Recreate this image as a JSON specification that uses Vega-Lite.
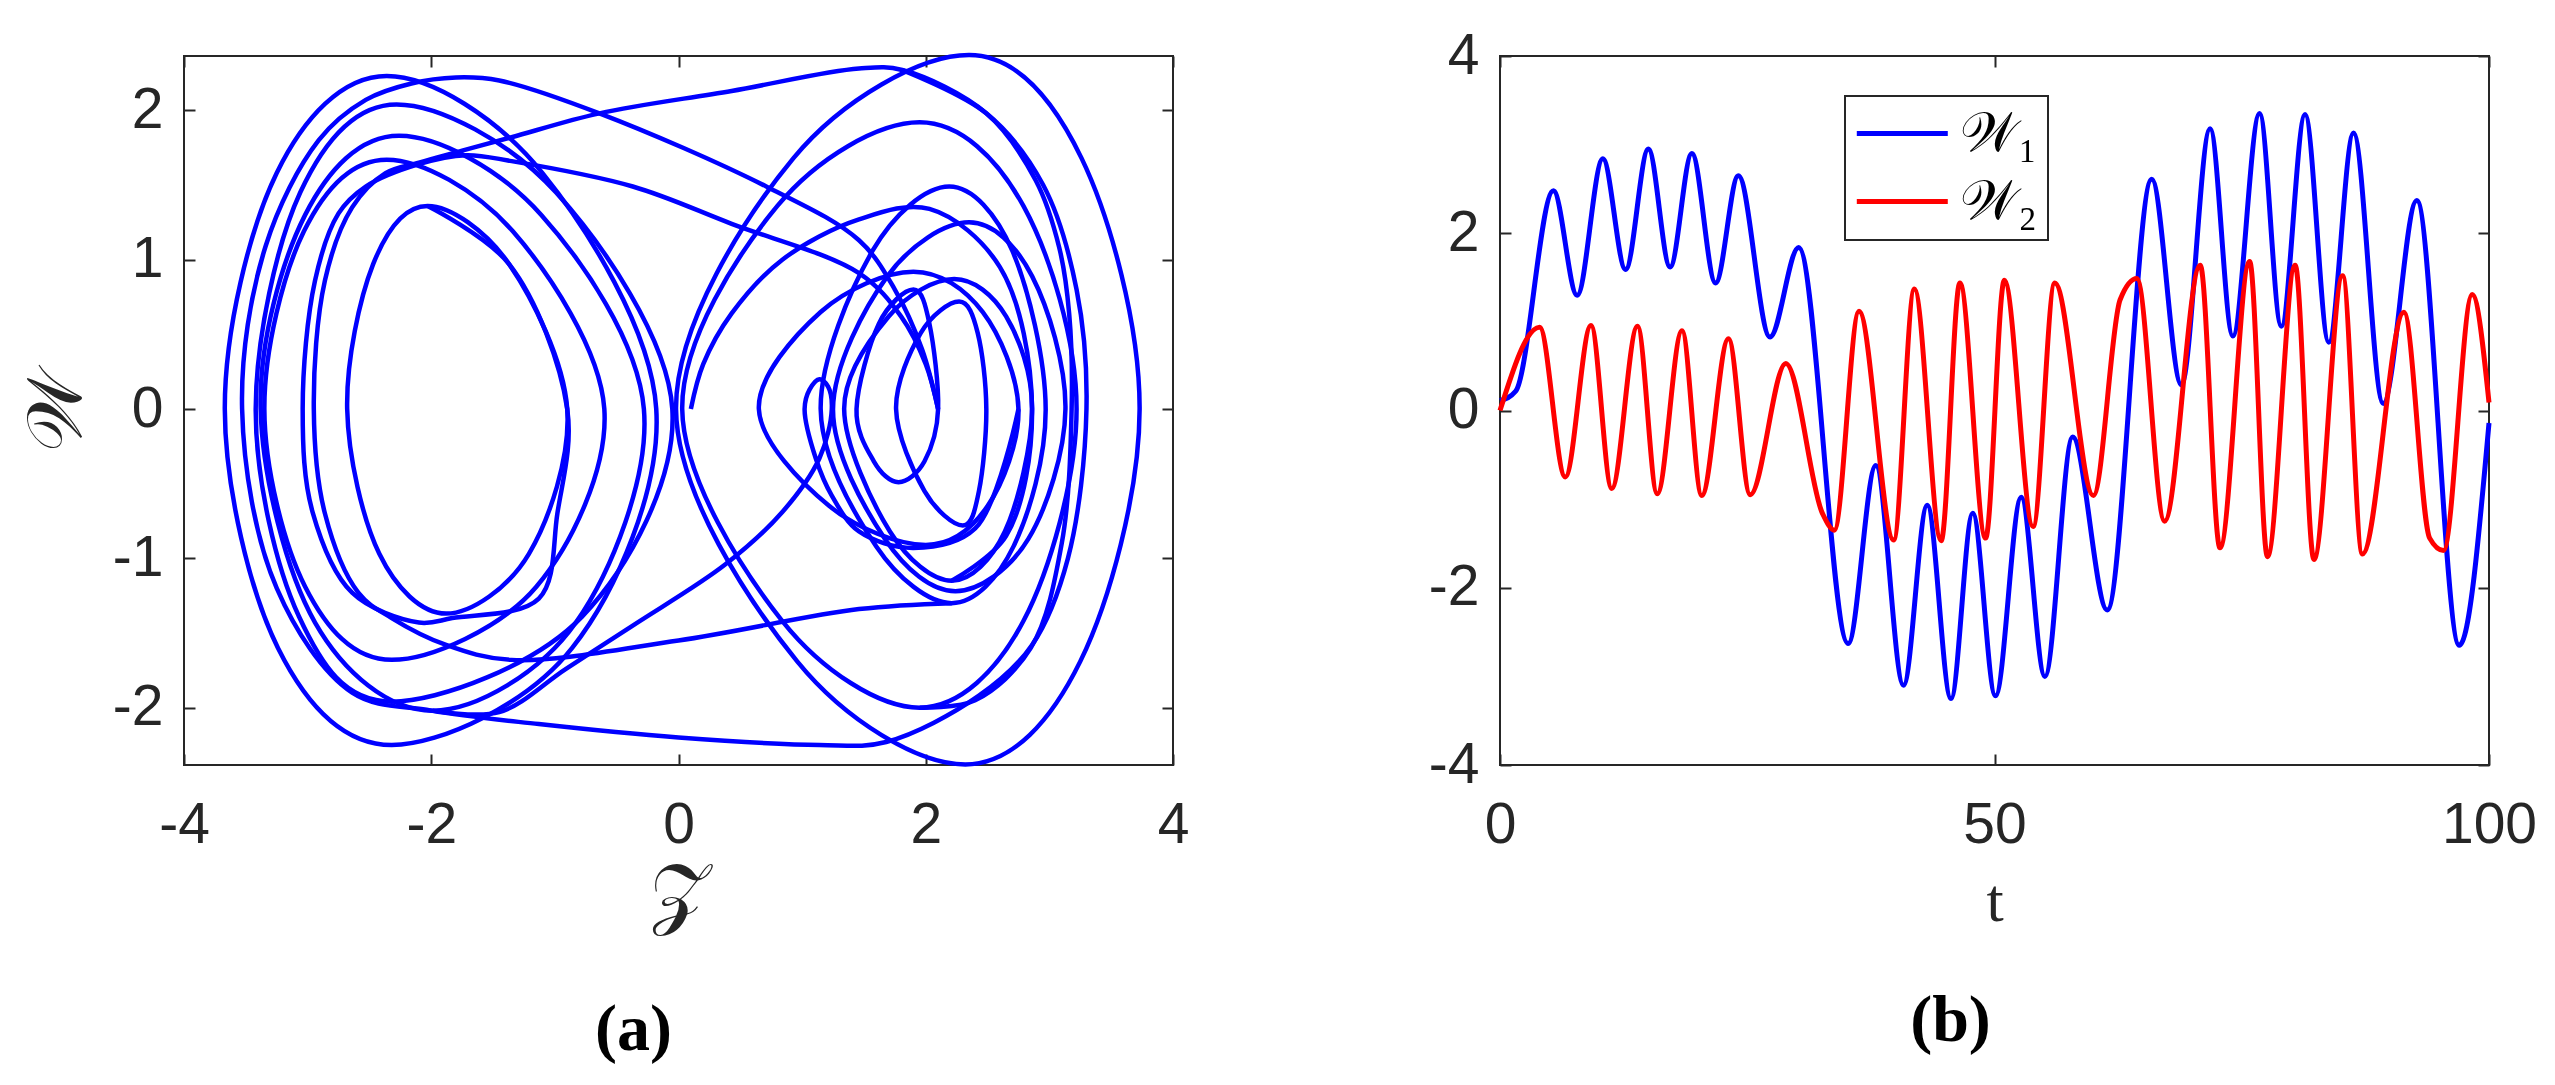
{
  "$schema": "https://vega.github.io/schema/vega-lite/v6.json",
  "padding": {"left": 17, "top": 26, "right": 10, "bottom": 10},
  "background": "white",
  "bounds": "flush",
  "spacing": 327,
  "config": {
    "view": {"stroke": "#262626", "strokeWidth": 2},
    "axis": {"domain": false, "grid": false, "ticks": true, "tickSize": -11, "tickColor": "#262626", "tickWidth": 2,
      "labelFont": "Liberation Sans", "labelFontSize": 57, "labelColor": "#262626", "labelFlush": false, "labelOverlap": false,
      "titleFont": "Liberation Serif", "titleFontSize": 62, "titleColor": "#262626", "titleFontWeight": "normal"},
    "axisX": {"labelPadding": 43},
    "axisY": {"labelPadding": 32},
    "legend": {"strokeWidth": 2},
    "title": {"font": "Liberation Serif", "fontSize": 66, "fontWeight": "bold", "color": "black"}
  },
  "datasets": {
    "loops": [
      {"id":"L1","o":1,"z":-3.67,"w":0},{"id":"L1","o":2,"z":-3.25,"w":1.58},{"id":"L1","o":3,"z":-2.36,"w":2.23},{"id":"L1","o":4,"z":-1.10,"w":1.58},{"id":"L1","o":5,"z":-0.18,"w":0},{"id":"L1","o":6,"z":-0.86,"w":-1.60},{"id":"L1","o":7,"z":-2.32,"w":-2.25},{"id":"L1","o":8,"z":-3.24,"w":-1.60},
      {"id":"L2","o":1,"z":-3.42,"w":0},{"id":"L2","o":2,"z":-3.06,"w":1.45},{"id":"L2","o":3,"z":-2.28,"w":2.04},{"id":"L2","o":4,"z":-0.99,"w":1.45},{"id":"L2","o":5,"z":-0.05,"w":0},{"id":"L2","o":6,"z":-0.78,"w":-1.39},{"id":"L2","o":7,"z":-2.32,"w":-1.96},{"id":"L2","o":8,"z":-3.07,"w":-1.39},
      {"id":"L3","o":1,"z":-3.38,"w":0},{"id":"L3","o":2,"z":-3.02,"w":1.30},{"id":"L3","o":3,"z":-2.26,"w":1.83},{"id":"L3","o":4,"z":-1.11,"w":1.30},{"id":"L3","o":5,"z":-0.28,"w":0},{"id":"L3","o":6,"z":-0.83,"w":-1.43},{"id":"L3","o":7,"z":-1.99,"w":-2.02},{"id":"L3","o":8,"z":-2.94,"w":-1.43},
      {"id":"L4","o":1,"z":-3.35,"w":0},{"id":"L4","o":2,"z":-3.03,"w":1.19},{"id":"L4","o":3,"z":-2.36,"w":1.67},{"id":"L4","o":4,"z":-1.34,"w":1.19},{"id":"L4","o":5,"z":-0.60,"w":0},{"id":"L4","o":6,"z":-1.15,"w":-1.19},{"id":"L4","o":7,"z":-2.32,"w":-1.68},{"id":"L4","o":8,"z":-3.02,"w":-1.19},
      {"id":"L5","o":1,"z":-2.68,"w":0},{"id":"L5","o":2,"z":-2.47,"w":0.97},{"id":"L5","o":3,"z":-2.03,"w":1.36},{"id":"L5","o":4,"z":-1.37,"w":0.97},{"id":"L5","o":5,"z":-0.90,"w":0},{"id":"L5","o":6,"z":-1.21,"w":-0.97},{"id":"L5","o":7,"z":-1.88,"w":-1.37},{"id":"L5","o":8,"z":-2.42,"w":-0.97},
      {"id":"RH","o":1,"z":-0.02,"w":0},{"id":"RH","o":2,"z":0.93,"w":1.68},{"id":"RH","o":3,"z":2.35,"w":2.37},{"id":"RH","o":4,"z":3.26,"w":1.68},{"id":"RH","o":5,"z":3.73,"w":0},{"id":"RH","o":6,"z":3.25,"w":-1.69},{"id":"RH","o":7,"z":2.32,"w":-2.38},{"id":"RH","o":8,"z":0.96,"w":-1.69},
      {"id":"RF","o":1,"z":0.03,"w":0},{"id":"RF","o":2,"z":0.80,"w":1.36},{"id":"RF","o":3,"z":1.95,"w":1.92},{"id":"RF","o":4,"z":2.79,"w":1.36},{"id":"RF","o":5,"z":3.22,"w":0},{"id":"RF","o":6,"z":2.79,"w":-1.42},{"id":"RF","o":7,"z":1.95,"w":-2.00},{"id":"RF","o":8,"z":0.84,"w":-1.42},
      {"id":"RE","o":1,"z":1.15,"w":0},{"id":"RE","o":2,"z":1.57,"w":1.06},{"id":"RE","o":3,"z":2.19,"w":1.49},{"id":"RE","o":4,"z":2.70,"w":1.06},{"id":"RE","o":5,"z":2.97,"w":0},{"id":"RE","o":6,"z":2.71,"w":-0.92},{"id":"RE","o":7,"z":2.21,"w":-1.30},{"id":"RE","o":8,"z":1.60,"w":-0.92},
      {"id":"RG","o":1,"z":1.25,"w":0},{"id":"RG","o":2,"z":1.69,"w":0.89},{"id":"RG","o":3,"z":2.35,"w":1.25},{"id":"RG","o":4,"z":2.86,"w":0.89},{"id":"RG","o":5,"z":3.13,"w":0},{"id":"RG","o":6,"z":2.83,"w":-0.87},{"id":"RG","o":7,"z":2.24,"w":-1.22},{"id":"RG","o":8,"z":1.67,"w":-0.87},
      {"id":"RD","o":1,"z":1.34,"w":0},{"id":"RD","o":2,"z":1.70,"w":0.62},{"id":"RD","o":3,"z":2.23,"w":0.87},{"id":"RD","o":4,"z":2.65,"w":0.62},{"id":"RD","o":5,"z":2.86,"w":0},{"id":"RD","o":6,"z":2.64,"w":-0.82},{"id":"RD","o":7,"z":2.21,"w":-1.15},{"id":"RD","o":8,"z":1.71,"w":-0.82},
      {"id":"RC","o":1,"z":0.65,"w":0},{"id":"RC","o":2,"z":1.15,"w":0.65},{"id":"RC","o":3,"z":1.90,"w":0.92},{"id":"RC","o":4,"z":2.46,"w":0.65},{"id":"RC","o":5,"z":2.75,"w":0},{"id":"RC","o":6,"z":2.50,"w":-0.65},{"id":"RC","o":7,"z":2.00,"w":-0.91},{"id":"RC","o":8,"z":1.22,"w":-0.65},
      {"id":"RB","o":1,"z":1.76,"w":0},{"id":"RB","o":2,"z":1.96,"w":0.51},{"id":"RB","o":3,"z":2.27,"w":0.72},{"id":"RB","o":4,"z":2.42,"w":0.51},{"id":"RB","o":5,"z":2.49,"w":0},{"id":"RB","o":6,"z":2.43,"w":-0.55},{"id":"RB","o":7,"z":2.30,"w":-0.78},{"id":"RB","o":8,"z":1.99,"w":-0.55},
      {"id":"RA","o":1,"z":1.44,"w":0},{"id":"RA","o":2,"z":1.62,"w":0.57},{"id":"RA","o":3,"z":1.90,"w":0.80},{"id":"RA","o":4,"z":2.03,"w":0.57},{"id":"RA","o":5,"z":2.10,"w":0},{"id":"RA","o":6,"z":1.99,"w":-0.35},{"id":"RA","o":7,"z":1.78,"w":-0.49},{"id":"RA","o":8,"z":1.58,"w":-0.35}
    ],
    "paths": [
      {"id":"S","o":1,"z":0.10,"w":0.0},{"id":"S","o":2,"z":0.20,"w":0.30},{"id":"S","o":3,"z":0.43,"w":0.64},{"id":"S","o":4,"z":0.84,"w":1.00},{"id":"S","o":5,"z":1.46,"w":1.27},{"id":"S","o":6,"z":2.03,"w":1.34},{"id":"S","o":7,"z":2.60,"w":0.95},{"id":"S","o":8,"z":2.86,"w":0.0},{"id":"S","o":9,"z":2.65,"w":-0.85},{"id":"S","o":10,"z":2.21,"w":-1.15},
      {"id":"TB","o":1,"z":1.81,"w":2.27},{"id":"TB","o":2,"z":2.49,"w":1.98},{"id":"TB","o":3,"z":2.95,"w":1.50},{"id":"TB","o":4,"z":3.22,"w":0.80},{"id":"TB","o":5,"z":3.30,"w":0.0},{"id":"TB","o":6,"z":3.15,"w":-1.00},{"id":"TB","o":7,"z":2.86,"w":-1.58},{"id":"TB","o":8,"z":2.43,"w":-1.92},{"id":"TB","o":9,"z":1.68,"w":-2.23},{"id":"TB","o":10,"z":1.14,"w":-2.25},{"id":"TB","o":11,"z":0.00,"w":-2.20},{"id":"TB","o":12,"z":-1.13,"w":-2.11},{"id":"TB","o":13,"z":-2.00,"w":-2.02},{"id":"TB","o":14,"z":-2.64,"w":-1.90},{"id":"TB","o":15,"z":-3.25,"w":-1.20},{"id":"TB","o":16,"z":-3.53,"w":0.0},{"id":"TB","o":17,"z":-3.34,"w":1.09},{"id":"TB","o":18,"z":-2.91,"w":1.80},{"id":"TB","o":19,"z":-2.53,"w":2.07},{"id":"TB","o":20,"z":-2.16,"w":2.18},{"id":"TB","o":21,"z":-1.80,"w":2.22},{"id":"TB","o":22,"z":-1.45,"w":2.20},{"id":"TB","o":23,"z":-0.64,"w":1.98},{"id":"TB","o":24,"z":0.71,"w":1.49},{"id":"TB","o":25,"z":1.46,"w":1.13},{"id":"TB","o":26,"z":1.75,"w":0.80},{"id":"TB","o":27,"z":1.97,"w":0.40},{"id":"TB","o":28,"z":2.10,"w":0.0},
      {"id":"TF","o":1,"z":-2.03,"w":1.36},{"id":"TF","o":2,"z":-1.37,"w":0.97},{"id":"TF","o":3,"z":-0.90,"w":0.0},{"id":"TF","o":4,"z":-0.98,"w":-0.70},{"id":"TF","o":5,"z":-1.13,"w":-1.27},{"id":"TF","o":6,"z":-1.83,"w":-1.40},{"id":"TF","o":7,"z":-2.10,"w":-1.43},{"id":"TF","o":8,"z":-2.64,"w":-1.23},{"id":"TF","o":9,"z":-2.96,"w":-0.69},{"id":"TF","o":10,"z":-3.04,"w":0.0},{"id":"TF","o":11,"z":-2.94,"w":0.86},{"id":"TF","o":12,"z":-2.75,"w":1.31},{"id":"TF","o":13,"z":-2.53,"w":1.49},{"id":"TF","o":14,"z":-2.10,"w":1.64},{"id":"TF","o":15,"z":-1.72,"w":1.70},{"id":"TF","o":16,"z":-1.35,"w":1.66},{"id":"TF","o":17,"z":-0.37,"w":1.49},{"id":"TF","o":18,"z":0.43,"w":1.24},{"id":"TF","o":19,"z":1.46,"w":0.91},{"id":"TF","o":20,"z":1.80,"w":0.62},{"id":"TF","o":21,"z":2.00,"w":0.30},{"id":"TF","o":22,"z":2.10,"w":0.0},
      {"id":"TG","o":1,"z":2.21,"w":-1.30},{"id":"TG","o":2,"z":1.46,"w":-1.34},{"id":"TG","o":3,"z":0.00,"w":-1.55},{"id":"TG","o":4,"z":-1.35,"w":-1.68},{"id":"TG","o":5,"z":-1.88,"w":-1.58},{"id":"TG","o":6,"z":-2.32,"w":-1.40},{"id":"TG","o":7,"z":-2.59,"w":-1.23},{"id":"TG","o":8,"z":-2.86,"w":-0.70},{"id":"TG","o":9,"z":-2.95,"w":0.0},{"id":"TG","o":10,"z":-2.86,"w":0.86},{"id":"TG","o":11,"z":-2.64,"w":1.35},{"id":"TG","o":12,"z":-2.37,"w":1.58},{"id":"TG","o":13,"z":-2.10,"w":1.65},{"id":"TG","o":14,"z":-1.75,"w":1.73},{"id":"TG","o":15,"z":-1.35,"w":1.82},{"id":"TG","o":16,"z":-0.64,"w":1.98},{"id":"TG","o":17,"z":0.43,"w":2.13},{"id":"TG","o":18,"z":1.46,"w":2.28},{"id":"TG","o":19,"z":1.81,"w":2.27},{"id":"TG","o":20,"z":2.49,"w":1.98},{"id":"TG","o":21,"z":2.89,"w":1.53},{"id":"TG","o":22,"z":3.08,"w":1.08},{"id":"TG","o":23,"z":3.16,"w":0.64},{"id":"TG","o":24,"z":3.18,"w":0.0},{"id":"TG","o":25,"z":3.10,"w":-0.90},{"id":"TG","o":26,"z":2.85,"w":-1.60},{"id":"TG","o":27,"z":2.40,"w":-1.95},{"id":"TG","o":28,"z":1.95,"w":-2.00},
      {"id":"D","o":1,"z":-1.99,"w":-2.02},{"id":"D","o":2,"z":-1.45,"w":-2.03},{"id":"D","o":3,"z":-0.91,"w":-1.74},{"id":"D","o":4,"z":-0.37,"w":-1.45},{"id":"D","o":5,"z":0.38,"w":-1.04},{"id":"D","o":6,"z":0.84,"w":-0.69},{"id":"D","o":7,"z":1.14,"w":-0.33},{"id":"D","o":8,"z":1.24,"w":0.0},{"id":"D","o":9,"z":1.21,"w":0.15},{"id":"D","o":10,"z":1.14,"w":0.20},{"id":"D","o":11,"z":1.06,"w":0.13},{"id":"D","o":12,"z":1.02,"w":0.0},{"id":"D","o":13,"z":1.11,"w":-0.33},{"id":"D","o":14,"z":1.24,"w":-0.58},{"id":"D","o":15,"z":1.46,"w":-0.82},{"id":"D","o":16,"z":1.90,"w":-0.93},{"id":"D","o":17,"z":2.40,"w":-0.80},{"id":"D","o":18,"z":2.75,"w":0.0}
    ],
    "ts": [
      {"s":"𝒲₁","t":0,"v":0.11},{"s":"𝒲₁","t":1.6,"v":0.22},{"s":"𝒲₁","t":5.4,"v":2.48},{"s":"𝒲₁","t":7.8,"v":1.30},{"s":"𝒲₁","t":10.4,"v":2.84},{"s":"𝒲₁","t":12.7,"v":1.59},{"s":"𝒲₁","t":15.0,"v":2.95},{"s":"𝒲₁","t":17.2,"v":1.62},{"s":"𝒲₁","t":19.4,"v":2.90},{"s":"𝒲₁","t":21.8,"v":1.44},{"s":"𝒲₁","t":24.1,"v":2.65},{"s":"𝒲₁","t":27.3,"v":0.83},{"s":"𝒲₁","t":30.2,"v":1.84},{"s":"𝒲₁","t":35.2,"v":-2.63},{"s":"𝒲₁","t":38.0,"v":-0.62},{"s":"𝒲₁","t":40.8,"v":-3.10},{"s":"𝒲₁","t":43.2,"v":-1.07},{"s":"𝒲₁","t":45.6,"v":-3.25},{"s":"𝒲₁","t":47.8,"v":-1.16},{"s":"𝒲₁","t":50.1,"v":-3.22},{"s":"𝒲₁","t":52.7,"v":-0.98},{"s":"𝒲₁","t":55.1,"v":-3.00},{"s":"𝒲₁","t":57.9,"v":-0.30},{"s":"𝒲₁","t":61.4,"v":-2.25},{"s":"𝒲₁","t":65.9,"v":2.61},{"s":"𝒲₁","t":68.9,"v":0.29},{"s":"𝒲₁","t":71.8,"v":3.18},{"s":"𝒲₁","t":74.1,"v":0.84},{"s":"𝒲₁","t":76.8,"v":3.35},{"s":"𝒲₁","t":79.0,"v":0.95},{"s":"𝒲₁","t":81.4,"v":3.34},{"s":"𝒲₁","t":83.8,"v":0.77},{"s":"𝒲₁","t":86.3,"v":3.13},{"s":"𝒲₁","t":89.3,"v":0.08},{"s":"𝒲₁","t":92.7,"v":2.37},{"s":"𝒲₁","t":97.0,"v":-2.65},{"s":"𝒲₁","t":100,"v":-0.14},
      {"s":"𝒲₂","t":0,"v":0.0},{"s":"𝒲₂","t":4.0,"v":0.94},{"s":"𝒲₂","t":6.6,"v":-0.75},{"s":"𝒲₂","t":9.2,"v":0.96},{"s":"𝒲₂","t":11.3,"v":-0.88},{"s":"𝒲₂","t":13.9,"v":0.95},{"s":"𝒲₂","t":15.9,"v":-0.94},{"s":"𝒲₂","t":18.4,"v":0.90},{"s":"𝒲₂","t":20.4,"v":-0.96},{"s":"𝒲₂","t":23.1,"v":0.81},{"s":"𝒲₂","t":25.3,"v":-0.95},{"s":"𝒲₂","t":28.9,"v":0.53},{"s":"𝒲₂","t":32.6,"v":-1.16},{"s":"𝒲₂","t":33.8,"v":-1.35},{"s":"𝒲₂","t":36.3,"v":1.12},{"s":"𝒲₂","t":39.8,"v":-1.46},{"s":"𝒲₂","t":41.9,"v":1.37},{"s":"𝒲₂","t":44.6,"v":-1.47},{"s":"𝒲₂","t":46.5,"v":1.44},{"s":"𝒲₂","t":49.1,"v":-1.44},{"s":"𝒲₂","t":51.0,"v":1.47},{"s":"𝒲₂","t":53.9,"v":-1.31},{"s":"𝒲₂","t":56.1,"v":1.44},{"s":"𝒲₂","t":60.0,"v":-0.96},{"s":"𝒲₂","t":62.7,"v":1.25},{"s":"𝒲₂","t":64.4,"v":1.49},{"s":"𝒲₂","t":67.2,"v":-1.25},{"s":"𝒲₂","t":70.8,"v":1.64},{"s":"𝒲₂","t":72.8,"v":-1.55},{"s":"𝒲₂","t":75.8,"v":1.68},{"s":"𝒲₂","t":77.6,"v":-1.65},{"s":"𝒲₂","t":80.4,"v":1.64},{"s":"𝒲₂","t":82.3,"v":-1.68},{"s":"𝒲₂","t":85.2,"v":1.52},{"s":"𝒲₂","t":87.2,"v":-1.62},{"s":"𝒲₂","t":91.4,"v":1.11},{"s":"𝒲₂","t":94.0,"v":-1.44},{"s":"𝒲₂","t":95.4,"v":-1.58},{"s":"𝒲₂","t":98.3,"v":1.31},{"s":"𝒲₂","t":100,"v":0.09}
    ]
  },
  "hconcat": [
    {
      "width": 989, "height": 709,
      "title": {"text": "(a)", "orient": "bottom", "anchor": "middle", "frame": "group", "dx": -45, "offset": 64},
      "resolve": {"axis": {"x": "independent", "y": "independent"}},
      "layer": [
        {
          "data": {"name": "loops"},
          "mark": {"type": "line", "interpolate": "cardinal-closed", "color": "#0000ff", "strokeWidth": 4.5},
          "encoding": {
            "x": {"field": "z", "type": "quantitative", "scale": {"domain": [-4, 4], "nice": false, "zero": false},
              "axis": {"orient": "bottom", "values": [-4, -2, 0, 2, 4], "labelExpr": "'' + datum.value", "title": "𝒵", "titleFontSize": 78, "titleY": 130, "titleBaseline": "middle"}},
            "y": {"field": "w", "type": "quantitative", "scale": {"domain": [-2.384, 2.364], "nice": false, "zero": false},
              "axis": {"orient": "left", "values": [-2, -1, 0, 1, 2], "labelExpr": "'' + datum.value", "title": "𝒲", "titleFontSize": 78, "titleX": -127, "titleBaseline": "middle"}},
            "detail": {"field": "id"},
            "order": {"field": "o", "type": "quantitative"}
          }
        },
        {
          "data": {"name": "paths"},
          "mark": {"type": "line", "interpolate": "catmull-rom", "color": "#0000ff", "strokeWidth": 4.5},
          "encoding": {
            "x": {"field": "z", "type": "quantitative", "scale": {"domain": [-4, 4], "nice": false, "zero": false}, "axis": null},
            "y": {"field": "w", "type": "quantitative", "scale": {"domain": [-2.384, 2.364], "nice": false, "zero": false}, "axis": null},
            "detail": {"field": "id"},
            "order": {"field": "o", "type": "quantitative"}
          }
        },
        {
          "data": {"name": "paths"},
          "mark": {"type": "point", "opacity": 0},
          "encoding": {
            "x": {"field": "z", "type": "quantitative", "scale": {"domain": [-4, 4], "nice": false, "zero": false},
              "axis": {"orient": "top", "values": [-4, -2, 0, 2, 4], "labels": false, "title": null}},
            "y": {"field": "w", "type": "quantitative", "scale": {"domain": [-2.384, 2.364], "nice": false, "zero": false},
              "axis": {"orient": "right", "values": [-2, -1, 0, 1, 2], "labels": false, "title": null}}
          }
        }
      ]
    },
    {
      "width": 989, "height": 709,
      "title": {"text": "(b)", "orient": "bottom", "anchor": "middle", "frame": "group", "dx": -44, "offset": 57},
      "resolve": {"axis": {"x": "independent", "y": "independent"}},
      "layer": [
        {
          "data": {"name": "ts"},
          "mark": {"type": "line", "interpolate": "monotone", "strokeWidth": 5},
          "encoding": {
            "x": {"field": "t", "type": "quantitative", "scale": {"domain": [0, 100], "nice": false, "zero": false},
              "axis": {"orient": "bottom", "values": [0, 50, 100], "labelExpr": "'' + datum.value", "title": "t", "titleY": 136, "titleBaseline": "middle"}},
            "y": {"field": "v", "type": "quantitative", "scale": {"domain": [-4, 4], "nice": false, "zero": false},
              "axis": {"orient": "left", "values": [-4, -2, 0, 2, 4], "labelExpr": "'' + datum.value", "title": null}},
            "color": {"field": "s", "type": "nominal", "scale": {"domain": ["𝒲₁", "𝒲₂"], "range": ["#0000ff", "#ff0000"]},
              "legend": {"orient": "none", "legendX": 1661, "legendY": 40, "title": null, "symbolType": "M-1.13,0L2.87,0", "symbolSize": 2070, "symbolStrokeWidth": 5,
                "labelFont": "Liberation Serif", "labelFontSize": 55, "labelColor": "black", "labelOffset": 50, "rowPadding": 12, "padding": 10,
                "strokeColor": "#262626", "fillColor": "white", "labelLimit": 0}},
            "order": {"field": "t", "type": "quantitative"}
          }
        },
        {
          "data": {"name": "ts"},
          "mark": {"type": "point", "opacity": 0},
          "encoding": {
            "x": {"field": "t", "type": "quantitative", "scale": {"domain": [0, 100], "nice": false, "zero": false},
              "axis": {"orient": "top", "values": [0, 50, 100], "labels": false, "title": null}},
            "y": {"field": "v", "type": "quantitative", "scale": {"domain": [-4, 4], "nice": false, "zero": false},
              "axis": {"orient": "right", "values": [-4, -2, 0, 2, 4], "labels": false, "title": null}}
          }
        }
      ]
    }
  ]
}
